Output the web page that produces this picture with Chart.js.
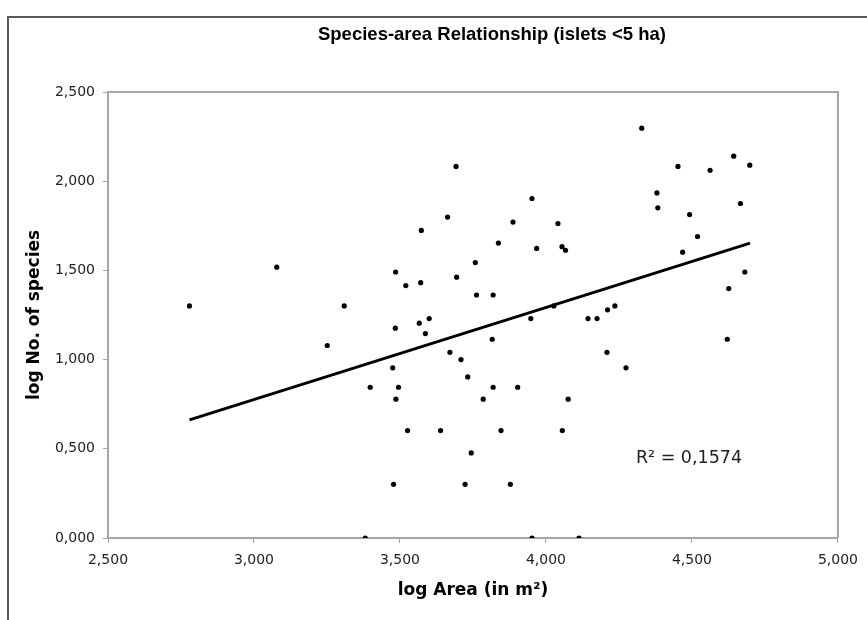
<!DOCTYPE html>
<html lang="en">
  <head>
    <meta charset="UTF-8" />
    <title>Species-area Relationship</title>
    <script src="https://cdn.jsdelivr.net/npm/chart.js"></script>
    <style>
      body {
        margin: 0;
        background-color: #fff;
        overflow: hidden;
      }

      .chart-wrap {
        position: relative;
        width: 867px;
        height: 620px;
      }

      .frame {
        position: absolute;
        left: 7px;
        top: 16px;
        width: 900px;
        height: 700px;
        border-left: 2px solid #5a5a5a;
        border-top: 2px solid #5a5a5a;
        pointer-events: none;
      }
    </style>
  </head>
  <body>
    <div class="chart-wrap">
      <canvas id="species-chart" width="867" height="620"></canvas>
      <div class="frame"></div>
    </div>

    <script>
      // islets
      const logArea = [
        2.779, 3.078, 3.251, 3.309, 3.381, 3.398, 3.475, 3.478, 3.484, 3.485,
        3.486, 3.495, 3.52, 3.526, 3.566, 3.571, 3.573, 3.587, 3.6, 3.639,
        3.663, 3.671, 3.692, 3.694, 3.709, 3.723, 3.732, 3.744, 3.758, 3.762,
        3.785, 3.816, 3.819, 3.819, 3.837, 3.846, 3.878, 3.887, 3.903, 3.948,
        3.952, 3.952, 3.968, 4.027, 4.041, 4.055, 4.056, 4.067, 4.076, 4.113,
        4.144, 4.175, 4.209, 4.211, 4.236, 4.274, 4.328, 4.38, 4.383, 4.452,
        4.468, 4.492, 4.519, 4.562, 4.621, 4.626, 4.643, 4.666, 4.681, 4.698,
      ];
      const logSpecies = [
        1.301, 1.518, 1.079, 1.301, 0.0, 0.845, 0.954, 0.301, 1.176, 1.491,
        0.778, 0.845, 1.415, 0.602, 1.204, 1.431, 1.724, 1.146, 1.23, 0.602,
        1.799, 1.041, 2.083, 1.462, 1.0, 0.301, 0.903, 0.477, 1.544, 1.362,
        0.778, 1.114, 1.362, 0.845, 1.653, 0.602, 0.301, 1.771, 0.845, 1.23,
        1.903, 0.0, 1.623, 1.301, 1.763, 1.633, 0.602, 1.613, 0.778, 0.0,
        1.23, 1.23, 1.041, 1.279, 1.301, 0.954, 2.297, 1.934, 1.851, 2.083,
        1.602, 1.813, 1.69, 2.061, 1.114, 1.398, 2.14, 1.875, 1.491, 2.09,
      ];

      // linear trendline end points
      const trendArea = [2.779, 4.699];
      const trendSpecies = [0.662, 1.653];
      const rSquaredText = "R\u00B2 = 0,1574";

      const xTicks = [2.5, 3.0, 3.5, 4.0, 4.5, 5.0];
      const yTicks = [0.0, 0.5, 1.0, 1.5, 2.0, 2.5];

      const chartTitle = "Species-area Relationship (islets <5 ha)";
      const xTitle = "log Area (in m\u00B2)";
      const yTitle = "log No. of species";

      const tickFont = { family: "'DejaVu Sans', Verdana, sans-serif", size: 14 };
      const axisTitleFont = {
        family: "'DejaVu Sans', Verdana, sans-serif",
        size: 17,
        weight: "bold",
      };
      const axisGrey = "#a6a6a6";

      function formatTick(value) {
        return value.toFixed(3).replace(".", ",");
      }

      const decorPlugin = {
        id: "decor",
        beforeDatasetsDraw(chart) {
          const { ctx, chartArea } = chart;
          ctx.save();
          ctx.strokeStyle = axisGrey;
          ctx.lineWidth = 2;
          ctx.beginPath();
          ctx.moveTo(chartArea.left, chartArea.top);
          ctx.lineTo(chartArea.right, chartArea.top);
          ctx.lineTo(chartArea.right, chartArea.bottom);
          ctx.stroke();
          ctx.restore();
        },
        afterDraw(chart) {
          const ctx = chart.ctx;
          const { x, y } = chart.scales;
          ctx.save();
          ctx.fillStyle = "#000";
          ctx.textAlign = "center";
          ctx.textBaseline = "middle";
          ctx.font = "bold 18.5px 'Liberation Sans', Arial, sans-serif";
          ctx.fillText(chartTitle, 492, 35);

          ctx.fillStyle = "#222";
          ctx.textAlign = "left";
          ctx.textBaseline = "alphabetic";
          ctx.font = "17.5px 'DejaVu Sans', Verdana, sans-serif";
          ctx.fillText(rSquaredText, x.getPixelForValue(4.308), y.getPixelForValue(0.42));
          ctx.restore();
        },
      };

      const points = logArea.map((a, i) => ({ x: a, y: logSpecies[i] }));
      const trend = trendArea.map((a, i) => ({ x: a, y: trendSpecies[i] }));

      new Chart(document.getElementById("species-chart"), {
        type: "scatter",
        data: {
          datasets: [
            {
              label: "Islets",
              data: points,
              backgroundColor: "#000",
              borderColor: "#000",
              pointRadius: 2.6,
              pointBorderWidth: 0,
            },
            {
              label: "Linear trend",
              data: trend,
              showLine: true,
              borderColor: "#000",
              borderWidth: 3,
              pointRadius: 0,
            },
          ],
        },
        options: {
          responsive: false,
          animation: false,
          layout: {
            padding: { top: 92, right: 29, left: 0, bottom: 0 },
          },
          plugins: {
            legend: { display: false },
            tooltip: { enabled: false },
          },
          scales: {
            x: {
              type: "linear",
              min: 2.5,
              max: 5,
              afterBuildTicks: (scale) => {
                scale.ticks = xTicks.map((v) => ({ value: v }));
              },
              afterFit: (scale) => {
                scale.height = 82;
              },
              grid: {
                drawOnChartArea: false,
                tickLength: 5,
                color: axisGrey,
              },
              border: { color: axisGrey, width: 2 },
              ticks: {
                font: tickFont,
                color: "#222",
                padding: 9,
                maxRotation: 0,
                callback: formatTick,
              },
              title: {
                display: true,
                text: xTitle,
                font: axisTitleFont,
                color: "#000",
                padding: { top: 0, bottom: 19 },
              },
            },
            y: {
              type: "linear",
              min: 0,
              max: 2.5,
              afterBuildTicks: (scale) => {
                scale.ticks = yTicks.map((v) => ({ value: v }));
              },
              afterFit: (scale) => {
                scale.width = 108;
              },
              grid: {
                drawOnChartArea: false,
                tickLength: 5,
                color: axisGrey,
              },
              border: { color: axisGrey, width: 2 },
              ticks: {
                font: tickFont,
                color: "#222",
                padding: 8,
                callback: formatTick,
              },
              title: {
                display: true,
                text: yTitle,
                font: axisTitleFont,
                color: "#000",
                padding: { top: 24, bottom: 0 },
              },
            },
          },
        },
        plugins: [decorPlugin],
      });
    </script>
  </body>
</html>
